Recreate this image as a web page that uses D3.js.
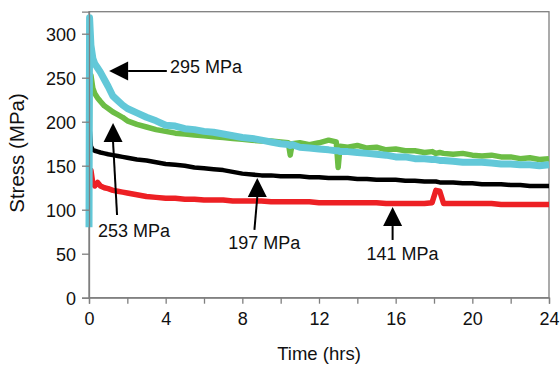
<!DOCTYPE html>
<html>
<head>
<meta charset="utf-8">
<script src="https://cdn.jsdelivr.net/npm/d3@7"></script>
<style>
  body { margin: 0; background: #fff; }
  svg { font-family: "Liberation Sans", Arial, sans-serif; }
</style>
</head>
<body>
<div id="chart"></div>
<script>
// time stamps (hrs) shared by all four curves
const hours = [0, 0.03, 0.1, 0.2, 0.3, 0.45, 0.6, 0.8, 1.0, 1.25, 1.5, 1.75, 2.0, 2.5, 3.0,
  3.5, 4, 4.5, 5, 5.5, 6, 6.5, 7, 7.5, 8, 8.5, 9, 9.5, 10, 10.4, 10.5, 10.6, 11, 11.5, 12, 12.5,
  12.9, 13, 13.1, 13.5, 14, 14.5, 15, 15.5, 16, 16.5, 17, 17.5, 17.9, 18.1, 18.3, 18.5, 19,
  19.5, 20, 20.5, 21, 21.5, 22, 22.5, 23, 23.5, 24];

// stress (MPa)
const stress295 = [80, 318, 287, 272, 266, 261, 256, 248, 240, 229, 224, 219, 215, 210, 205,
  201, 196, 195, 192, 191, 189, 188, 186, 184, 182, 181, 179, 177, 175, 174, 173, 174, 171, 170,
  169, 168, 167, 167, 166, 166, 165, 164, 163, 162, 160, 160, 158, 158, 157, 157, 156, 156, 155,
  154, 154, 154, 153, 152, 152, 151, 151, 150, 151];
const stress253 = [150, 232, 253, 238, 232, 227, 223, 218, 215, 211, 208, 205, 201, 197, 194,
  191, 189, 187, 186, 185, 184, 183, 182, 181, 180, 179, 178, 178, 177, 176, 162, 175, 176, 174,
  176, 179, 177, 148, 172, 171, 173, 170, 171, 168, 169, 167, 167, 165, 166, 164, 165, 164, 163,
  164, 162, 161, 162, 160, 160, 158, 159, 157, 158];
const stress197 = [110, 193, 172, 168, 167, 166, 165, 164, 163, 162, 161, 160, 159, 157, 156,
  154, 152, 151, 150, 148, 147, 146, 145, 143, 141, 140, 139, 139, 138, 138, 138, 138, 138, 137,
  137, 136, 136, 136, 136, 136, 135, 135, 134, 134, 134, 133, 133, 132, 132, 132, 131, 131, 131,
  130, 130, 129, 129, 129, 128, 128, 127, 127, 127];
const stress141 = [128, 134, 145, 130, 127, 131, 127, 125, 124, 122, 121, 120, 119, 117, 115,
  114, 113, 113, 112, 112, 111, 111, 111, 110, 110, 110, 110, 109, 109, 109, 109, 109, 109, 109,
  108, 108, 108, 108, 108, 108, 108, 108, 108, 107, 107, 107, 107, 107, 108, 122, 121, 107, 107,
  107, 107, 107, 107, 106, 106, 106, 106, 106, 106];

const seriesNames = ['141 MPa', '197 MPa', '253 MPa', '295 MPa'];
const seriesValues = [stress141, stress197, stress253, stress295];
const seriesColors = ['#ed2024', '#000000', '#6cbd45', '#62c8d8'];
const seriesWidths = [5.5, 4.5, 5.5, 7];

const xTicks = d3.range(0, 25, 2);
const xLabels = [0, 4, 8, 12, 16, 20, 24];
const yTicks = [0, 50, 100, 150, 200, 250, 300];

// arrow annotations: tip, tail and label anchor, in data units
const notes = [
  {label: '295 MPa', dir: 'left', tip: [1.05, 257.6], tail: [4.06, 257.6], text: [4.23, 255]},
  {label: '253 MPa', dir: 'up', tip: [1.255, 198.5], tail: [1.464, 94], text: [0.47, 69]},
  {label: '197 MPa', dir: 'up', tip: [8.78, 136], tail: [8.63, 77], text: [7.27, 55.3]},
  {label: '141 MPa', dir: 'up', tip: [15.84, 103], tail: [15.84, 65.6], text: [14.48, 42.8]}
];

const W = 560, H = 365;
const margin = {top: 11.7, right: 11, bottom: 67.3, left: 89};

const svg = d3.select('#chart').append('svg')
    .attr('width', W)
    .attr('height', H);

const x = d3.scaleLinear().domain([0, 24]).range([margin.left, W - margin.right]);
const y = d3.scaleLinear().domain([0, 325]).range([H - margin.bottom, margin.top]);

const axisColor = '#7f7f7f';

// frame
svg.append('rect')
    .attr('x', x(0))
    .attr('y', y(325))
    .attr('width', x(24) - x(0))
    .attr('height', y(0) - y(325))
    .attr('fill', 'none')
    .attr('stroke', axisColor)
    .attr('stroke-width', 1.3);

// curves
const line = d3.line()
    .x((d, i) => x(hours[i]))
    .y(d => y(d));

svg.append('g').selectAll('path')
    .data(seriesValues)
    .join('path')
    .attr('d', d => line(d))
    .attr('fill', 'none')
    .attr('stroke', (d, i) => seriesColors[i])
    .attr('stroke-width', (d, i) => seriesWidths[i])
    .attr('stroke-linejoin', 'round');

// axes
const yAxis = svg.append('g')
    .attr('transform', `translate(${x(0)},0)`)
    .call(d3.axisLeft(y).tickValues(yTicks).tickSize(7).tickPadding(6));

const xAxis = svg.append('g')
    .attr('transform', `translate(0,${y(0)})`)
    .call(d3.axisBottom(x).tickValues(xTicks).tickSize(6).tickPadding(9)
        .tickFormat(d => xLabels.includes(d) ? d : ''));

[xAxis, yAxis].forEach(a => {
    a.select('.domain').attr('stroke', axisColor).attr('stroke-width', 1.3);
    a.selectAll('.tick line').attr('stroke', axisColor).attr('stroke-width', 1.3);
    a.selectAll('.tick text')
        .attr('fill', '#111')
        .style('font-size', '18px')
        .style('font-family', '"Liberation Sans", Arial, sans-serif');
});
yAxis.selectAll('.tick text').attr('dy', '0.36em');

svg.append('text')
    .attr('x', (x(0) + x(24)) / 2)
    .attr('y', 360)
    .attr('text-anchor', 'middle')
    .attr('fill', '#111')
    .style('font-size', '18.5px')
    .text('Time (hrs)');

svg.append('text')
    .attr('transform', 'translate(24,153) rotate(-90)')
    .attr('text-anchor', 'middle')
    .attr('fill', '#111')
    .style('font-size', '20.5px')
    .text('Stress (MPa)');

// annotations
const head = 19, half = 9.5;
const ann = svg.append('g');
notes.forEach(n => {
    const tx = x(n.tip[0]), ty = y(n.tip[1]);
    let pts, bx, by;
    if (n.dir === 'left') {
        bx = tx + head; by = ty;
        pts = [[tx, ty], [bx, ty - half], [bx, ty + half]];
    } else {
        bx = tx; by = ty + head;
        pts = [[tx, ty], [tx - half, by], [tx + half, by]];
    }
    ann.append('line')
        .attr('x1', bx).attr('y1', by)
        .attr('x2', x(n.tail[0])).attr('y2', y(n.tail[1]))
        .attr('stroke', '#000')
        .attr('stroke-width', 2);
    ann.append('polygon')
        .attr('points', pts.map(p => p.join(',')).join(' '))
        .attr('fill', '#000');
    ann.append('text')
        .attr('x', x(n.text[0]))
        .attr('y', y(n.text[1]))
        .attr('fill', '#111')
        .style('font-size', '18px')
        .text(n.label);
});
</script>
</body>
</html>
